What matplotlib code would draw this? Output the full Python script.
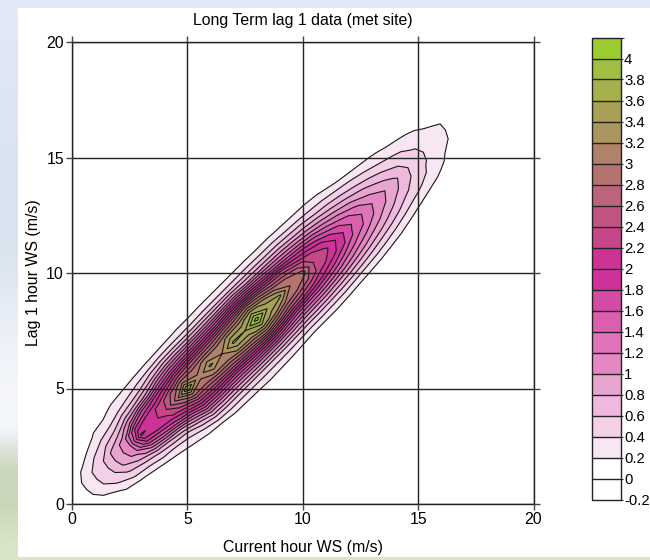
import numpy as np
import matplotlib
matplotlib.use("Agg")
import matplotlib.pyplot as plt
from matplotlib.colors import ListedColormap, BoundaryNorm

plt.rcParams['font.family'] = ['Liberation Sans', 'DejaVu Sans']
plt.rcParams['font.size'] = 11.4

W, H = 650, 560

# levels of the density
levels = [-0.2, 0, 0.2, 0.4, 0.6, 0.8, 1, 1.2, 1.4, 1.6, 1.8, 2, 2.2, 2.4, 2.6, 2.8, 3, 3.2, 3.4, 3.6, 3.8, 4, 4.2]
level_labels = ["-0.2", "0", "0.2", "0.4", "0.6", "0.8", "1", "1.2", "1.4", "1.6", "1.8", "2", "2.2", "2.4", "2.6", "2.8", "3", "3.2", "3.4", "3.6", "3.8", "4"]
band_colors = ["#ffffff", "#ffffff", "#f8e6f2", "#f3d0e8", "#eeb9dc", "#e8a5d0", "#e487c3", "#e073b9",
               "#da5faf", "#d44ba5", "#d0329b", "#cd3296", "#c64687", "#c05582", "#bc647d", "#b4736e",
               "#af8269", "#aa965f", "#a8a055", "#a5af4b", "#a0be41", "#9bcd32"]

# density, along the diagonal (u=(x+y)/2) and across it (v=y-x)
u_vals = [0, 0.5, 1, 1.5, 2, 2.5, 3, 3.5, 4, 4.5, 5, 5.5, 6, 6.5, 7, 7.5, 8, 8.5, 9, 9.5,
          10, 10.5, 11, 11.5, 12, 12.5, 13, 13.5, 14, 14.5, 15, 15.5, 16, 16.5, 17]
v_vals = [-3.5, -3, -2.5, -2, -1.5, -1, -0.5, 0, 0.5, 1, 1.5, 2, 2.5, 3, 3.5]
density = [
    [0, 0, 0, 0, 0, 0, 0, 0, 0, 0, 0, 0, 0, 0, 0],
    [0, 0, 0, 0, 0, 0.05, 0.12, 0.14, 0.12, 0.05, 0, 0, 0, 0, 0],
    [0, 0, 0, 0, 0.05, 0.25, 0.36, 0.37, 0.36, 0.25, 0.05, 0, 0, 0, 0],
    [0, 0, 0, 0.1, 0.28, 0.44, 0.53, 0.56, 0.53, 0.42, 0.27, 0.05, 0, 0, 0],
    [0, 0, 0, 0.17, 0.43, 0.65, 0.84, 0.88, 0.85, 0.62, 0.4, 0.25, 0.08, 0.01, 0],
    [0, 0, 0.05, 0.25, 0.52, 0.85, 1.1, 1.15, 1.1, 0.8, 0.5, 0.28, 0.15, 0.03, 0],
    [0, 0, 0.1, 0.37, 0.66, 1.25, 1.85, 2.25, 1.85, 1.2, 0.72, 0.4, 0.24, 0.08, 0.01],
    [0, 0.03, 0.2, 0.42, 0.82, 1.5, 2.02, 2.12, 2.08, 1.6, 0.88, 0.48, 0.28, 0.1, 0.01],
    [0, 0.1, 0.27, 0.5, 0.98, 1.7, 2.15, 2.3, 2.25, 1.8, 1.08, 0.62, 0.33, 0.12, 0.02],
    [0.02, 0.15, 0.4, 0.75, 1.3, 1.95, 2.45, 2.85, 2.6, 2.05, 1.4, 0.8, 0.4, 0.14, 0.02],
    [0.04, 0.2, 0.55, 1.05, 1.7, 2.3, 2.95, 3.6, 2.95, 2.3, 1.6, 0.95, 0.45, 0.16, 0.03],
    [0.06, 0.25, 0.6, 1.1, 1.75, 2.4, 2.9, 3.05, 2.9, 2.4, 1.65, 1.0, 0.47, 0.19, 0.04],
    [0.07, 0.26, 0.6, 1.1, 1.75, 2.45, 3.05, 3.45, 3.05, 2.45, 1.7, 1.0, 0.47, 0.21, 0.05],
    [0.08, 0.27, 0.6, 1.12, 1.75, 2.5, 3.05, 3.2, 3.05, 2.5, 1.75, 1.02, 0.48, 0.21, 0.05],
    [0.1, 0.28, 0.6, 1.15, 1.85, 2.6, 3.25, 3.65, 3.25, 2.6, 1.8, 1.05, 0.5, 0.22, 0.05],
    [0.09, 0.27, 0.6, 1.15, 1.9, 2.7, 3.3, 3.6, 3.3, 2.7, 1.9, 1.08, 0.5, 0.22, 0.05],
    [0.08, 0.26, 0.6, 1.15, 1.95, 2.85, 3.55, 4.1, 3.55, 2.85, 1.9, 1.1, 0.5, 0.22, 0.05],
    [0.06, 0.24, 0.58, 1.1, 1.8, 2.65, 3.3, 3.55, 3.3, 2.65, 1.8, 1.0, 0.5, 0.22, 0.05],
    [0.05, 0.22, 0.55, 1.05, 1.65, 2.4, 3.0, 3.45, 3.0, 2.4, 1.65, 0.95, 0.5, 0.22, 0.05],
    [0.04, 0.22, 0.55, 1.02, 1.6, 2.3, 2.8, 2.95, 2.8, 2.3, 1.5, 0.92, 0.48, 0.21, 0.04],
    [0.03, 0.22, 0.52, 1.0, 1.55, 2.15, 2.6, 2.9, 2.55, 2.0, 1.4, 0.88, 0.47, 0.21, 0.04],
    [0.02, 0.2, 0.5, 0.92, 1.45, 1.95, 2.3, 2.35, 2.25, 1.85, 1.28, 0.8, 0.43, 0.19, 0.03],
    [0, 0.16, 0.45, 0.85, 1.3, 1.75, 2.1, 2.25, 2.05, 1.65, 1.15, 0.72, 0.4, 0.17, 0.03],
    [0, 0.13, 0.4, 0.75, 1.15, 1.5, 1.85, 1.95, 1.75, 1.4, 1.0, 0.62, 0.35, 0.16, 0.02],
    [0, 0.1, 0.35, 0.65, 1.0, 1.3, 1.55, 1.65, 1.5, 1.2, 0.85, 0.55, 0.3, 0.12, 0.01],
    [0, 0.06, 0.28, 0.55, 0.85, 1.12, 1.35, 1.42, 1.28, 1.02, 0.72, 0.46, 0.22, 0.06, 0],
    [0, 0.03, 0.22, 0.45, 0.72, 0.95, 1.12, 1.2, 1.05, 0.85, 0.6, 0.38, 0.15, 0.02, 0],
    [0, 0, 0.14, 0.35, 0.58, 0.78, 0.95, 1.02, 0.88, 0.7, 0.48, 0.3, 0.1, 0, 0],
    [0, 0, 0.07, 0.25, 0.45, 0.62, 0.76, 0.85, 0.72, 0.55, 0.38, 0.24, 0.05, 0, 0],
    [0, 0, 0.02, 0.17, 0.35, 0.5, 0.58, 0.62, 0.56, 0.45, 0.3, 0.16, 0, 0, 0],
    [0, 0, 0, 0.1, 0.26, 0.36, 0.42, 0.45, 0.42, 0.35, 0.25, 0.08, 0, 0, 0],
    [0, 0, 0, 0.02, 0.14, 0.27, 0.33, 0.34, 0.34, 0.28, 0.16, 0.02, 0, 0, 0],
    [0, 0, 0, 0, 0, 0.05, 0.22, 0.27, 0.27, 0.12, 0.03, 0, 0, 0, 0],
    [0, 0, 0, 0, 0, 0, 0.03, 0.08, 0.1, 0.02, 0, 0, 0, 0, 0],
    [0, 0, 0, 0, 0, 0, 0, 0, 0, 0, 0, 0, 0, 0, 0],
]

ticks = [0, 5, 10, 15, 20]

# slide background that shows round the pasted chart, top to bottom
bg_colors = ["#e2e8f7", "#dfe7f6", "#dde6f5", "#dbe5f3", "#d9e4f1", "#d7e3ef", "#d8e4ee", "#dfe8f2",
             "#e8eef6", "#f0f3f9", "#f4f6fb", "#f2f5fa", "#cdd8c0", "#c9d6ba", "#d9e5c6"]

fig = plt.figure(figsize=(W / 100, H / 100), dpi=100)

ax_bg = fig.add_axes([0, 0, 1, 1], zorder=0)
bg_rgb = np.array([[matplotlib.colors.to_rgb(c)] for c in bg_colors])
ax_bg.imshow(bg_rgb, aspect="auto", interpolation="bilinear")
ax_bg.axis("off")
fig.patches.append(plt.Rectangle((18 / W, 1 - 557 / H), 1, 549 / H, transform=fig.transFigure, fc="white", ec="none", zorder=1))

# main plot
ax = fig.add_axes([72 / W, 1 - 504 / H, 461.5 / W, 462 / H], zorder=2)
ax.patch.set_alpha(0)
U, V = np.meshgrid(u_vals, v_vals, indexing="ij")
X = U - V / 2
Y = U + V / 2
Z = np.array(density)
cmap = ListedColormap(band_colors)
norm = BoundaryNorm(levels, cmap.N)
cf = ax.contourf(X, Y, Z, levels=levels, cmap=cmap, norm=norm)
ax.contour(X, Y, Z, levels=levels[2:-1], colors="#1a1a1a", linewidths=0.8)
ax.set_xlim(0, 20)
ax.set_ylim(0, 20)
ax.set_xticks(ticks)
ax.set_yticks(ticks)
ax.grid(True, color="#222222", linewidth=1.0)
ax.set_axisbelow(False)
ax.tick_params(top=True, right=True, direction="out", length=4.3, width=1.0, color="#444444", pad=1.5)
for s in ax.spines.values():
    s.set_linewidth(1.0)
    s.set_color("#222222")
ax.set_xlabel("Current hour WS (m/s)", labelpad=9)
ax.set_ylabel("Lag 1 hour WS (m/s)", labelpad=4)
fig.text(303 / W, 1 - 20 / H, "Long Term lag 1 data (met site)", ha="center", va="center", zorder=3)

# colour key
cax = fig.add_axes([591.5 / W, 1 - 499.5 / H, 29 / W, 462 / H], zorder=2)
cb = fig.colorbar(cf, cax=cax, ticks=levels[:-1], spacing="uniform", drawedges=True)
cb.set_ticklabels(level_labels)
cb.dividers.set_color("#222222")
cb.dividers.set_linewidth(1.0)
cb.outline.set_edgecolor("#222222")
cb.outline.set_linewidth(1.0)
cb.ax.tick_params(length=1.5, width=0.8, pad=1, color="#222222", labelsize=10.7)

fig.savefig("out.png", dpi=100)
